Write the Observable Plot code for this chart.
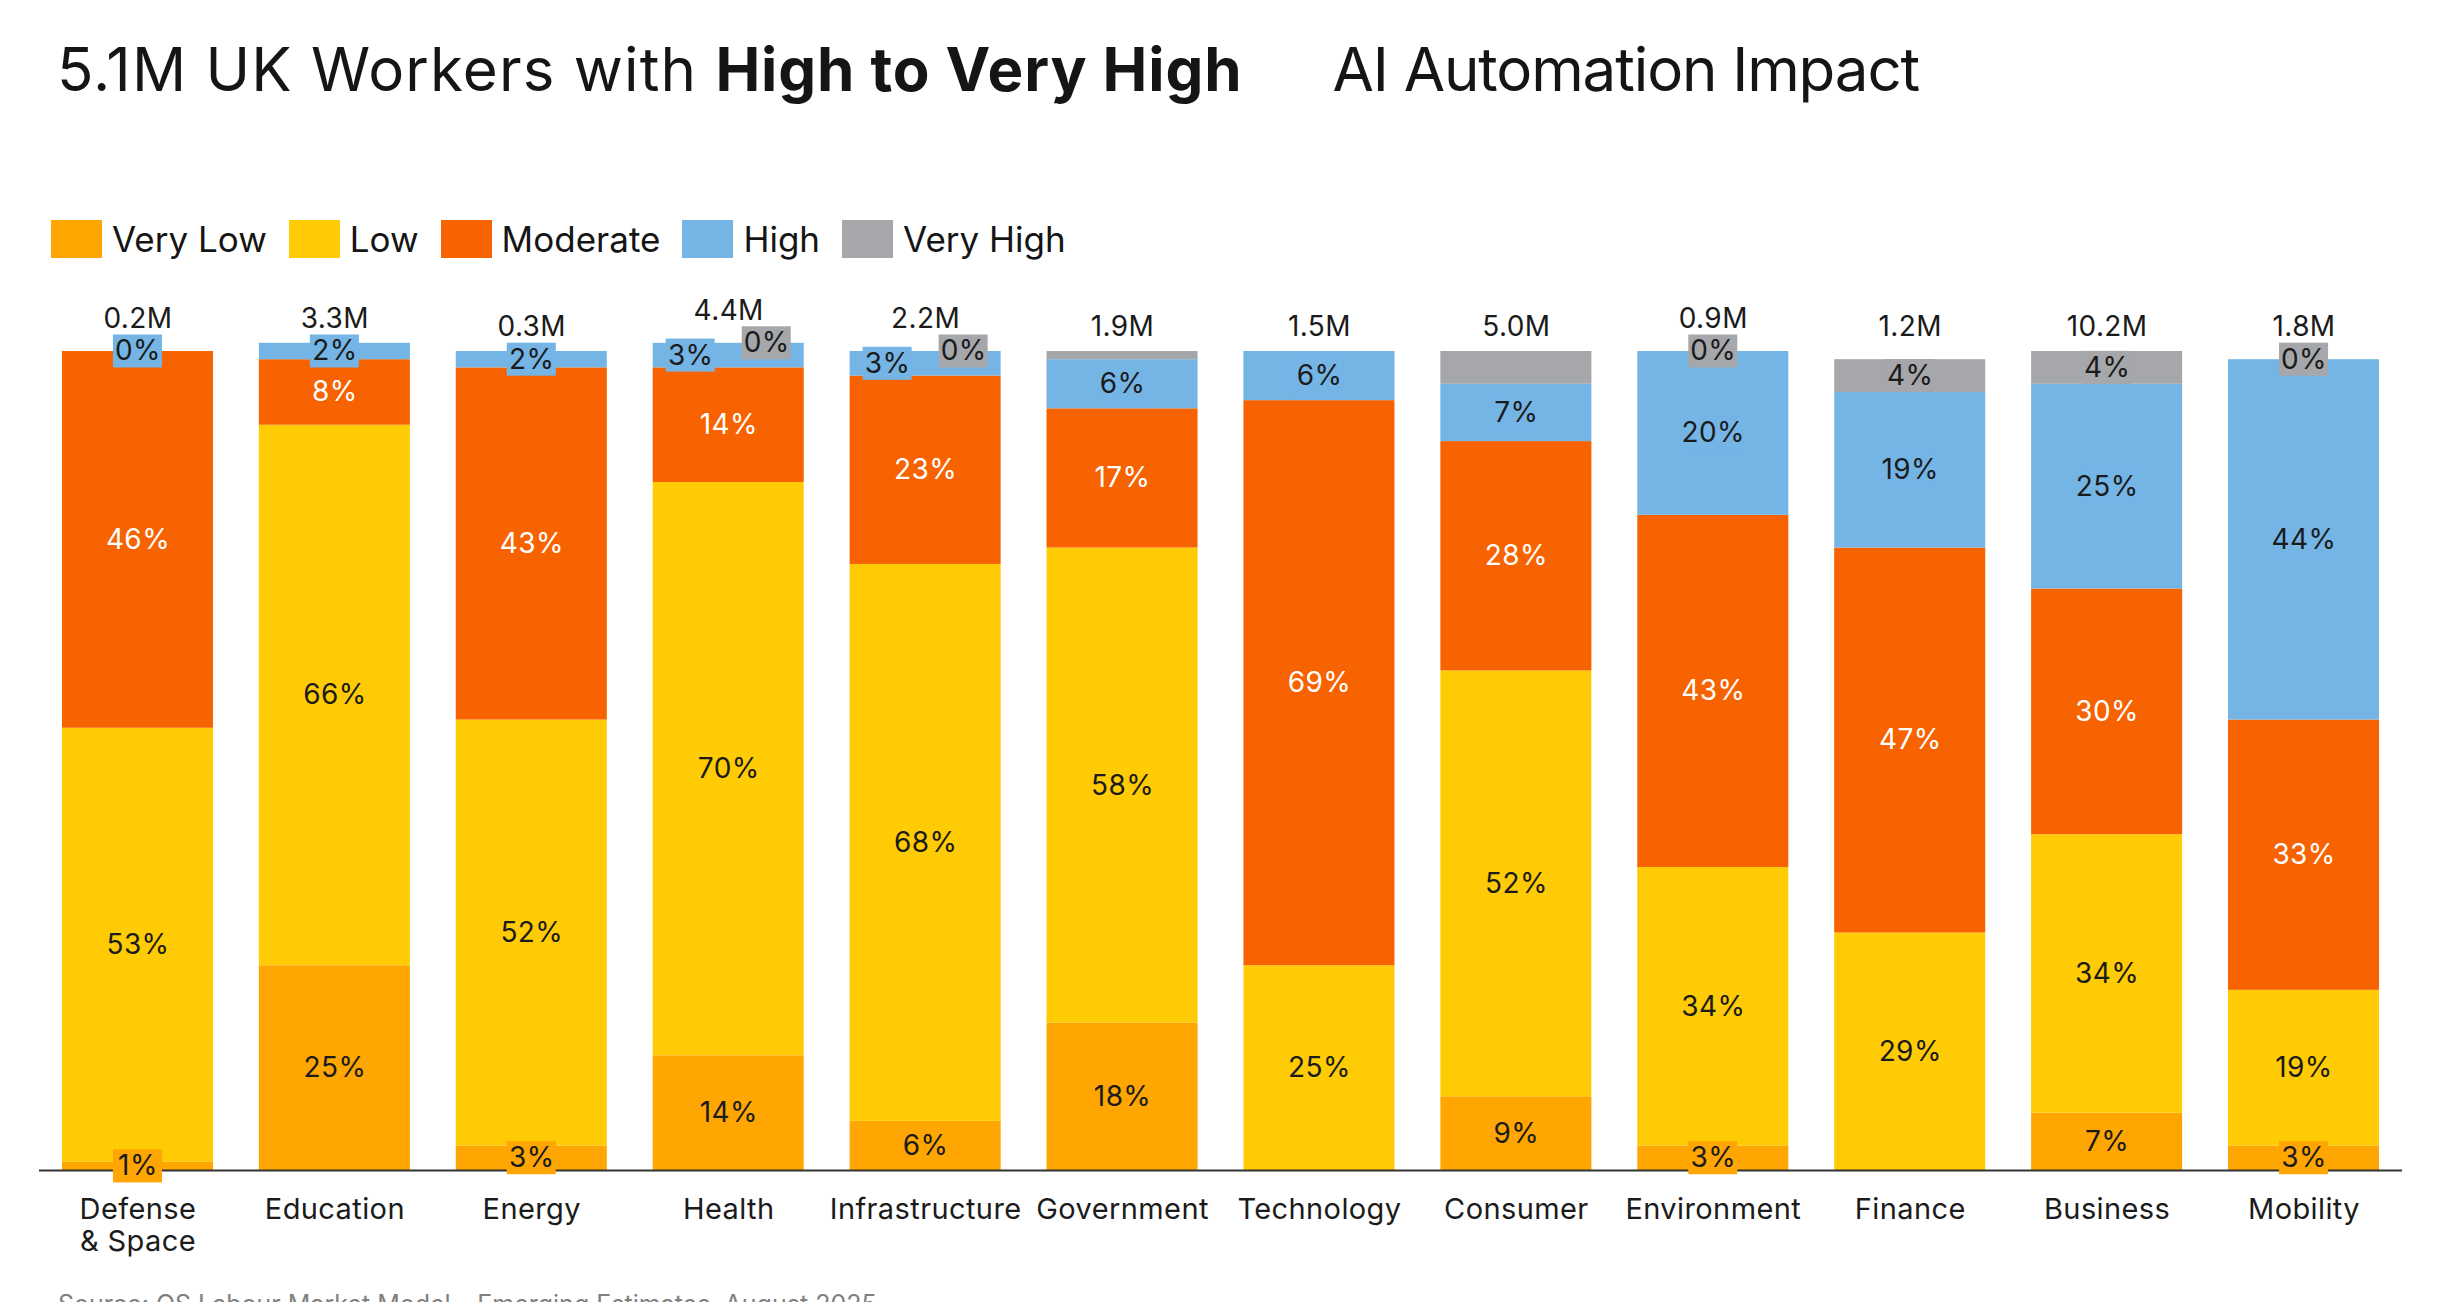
<!DOCTYPE html>
<html>
<head>
<meta charset="utf-8">
<script src="https://cdn.jsdelivr.net/npm/d3@7"></script>
<script src="https://cdn.jsdelivr.net/npm/@observablehq/plot@0.6"></script>
<style>
  html, body { margin: 0; padding: 0; background: #fff; overflow: hidden; }
  body { width: 2440px; height: 1302px; position: relative; font-family: Inter, "Noto Sans", sans-serif; color: #151515; }
  #title { position: absolute; left: 57px; top: 39px; font-size: 60px; line-height: 60px; font-weight: 400; white-space: nowrap; }
  #title .lead { letter-spacing: 1.2px; }
  #title b { font-weight: 700; letter-spacing: 0.9px; }
  #title .tail { letter-spacing: -1.1px; margin-left: 90px; }
  #legend { position: absolute; left: 51px; top: 220px; display: flex; }
  #legend .item { display: flex; align-items: center; margin-right: 22px; font-size: 35px; line-height: 38px; }
  #legend .sw { width: 51px; height: 38px; margin-right: 10px; }
  #chart { position: absolute; left: 0; top: 280px; }
  #source { position: absolute; left: 58px; top: 1289px; font-size: 25px; color: #808080; white-space: nowrap; }
</style>
</head>
<body>
<div id="title"><span class="lead">5.1M UK Workers with </span><b>High to Very High</b><span class="tail">AI Automation Impact</span></div>
<div id="legend"></div>
<div id="chart"></div>
<div id="source">Source: OS Labour Market Model – Emerging Estimates, August 2025</div>
<script>
// Sectors and the share of workers (%) in each AI automation impact level
const sectors = ["Defense & Space", "Education", "Energy", "Health", "Infrastructure", "Government",
                 "Technology", "Consumer", "Environment", "Finance", "Business", "Mobility"];
const veryLow  = [1, 25, 3, 14, 6, 18, null, 9, 3, null, 7, 3];
const low      = [53, 66, 52, 70, 68, 58, 25, 52, 34, 29, 34, 19];
const moderate = [46, 8, 43, 14, 23, 17, 69, 28, 43, 47, 30, 33];
const high     = [0, 2, 2, 3, 3, 6, 6, 7, 20, 19, 25, 44];
const veryHigh = [null, null, null, 0, 0, 1, null, 4, 0, 4, 4, 0];
// Very High shares that are drawn without a value label
const unlabelledVeryHigh = ["Government", "Consumer"];
// Total workers per sector
const totalLabels = ["0.2M", "3.3M", "0.3M", "4.4M", "2.2M", "1.9M", "1.5M", "5.0M", "0.9M", "1.2M", "10.2M", "1.8M"];

const levels = ["Very Low", "Low", "Moderate", "High", "Very High"];
const levelColors = ["#FFA602", "#FFCB05", "#F66300", "#74B5E6", "#A5A7AA"];
const series = [veryLow, low, moderate, high, veryHigh];

// Legend
const legend = document.getElementById("legend");
levels.forEach((lv, k) => {
  const item = document.createElement("div");
  item.className = "item";
  item.innerHTML = `<span class="sw" style="background:${levelColors[k]}"></span><span>${lv}</span>`;
  legend.appendChild(item);
});

// Plot geometry
const width = 2440, height = 1010;
const marginTop = 71, marginBottom = 120, marginLeft = 39, marginRight = 38;
const pxPerPct = (height - marginTop - marginBottom) / 100;
const boxHalf = 16.5 / pxPerPct;   // half height of a label box, in percent units

// Stack the segments of each bar
const rows = [];
sectors.forEach((sector, i) => {
  let base = 0;
  series.forEach((vals, k) => {
    const v = vals[i];
    if (v == null) return;
    rows.push({
      sector, level: levels[k], value: v,
      y1: base, y2: base + v, mid: base + v / 2,
      labelled: !(k === 4 && unlabelledVeryHigh.includes(sector)),
      nudge: 0
    });
    base += v;
  });
});

// Push apart High / Very High labels that would collide at the top of a bar
sectors.forEach(sector => {
  const h = rows.find(r => r.sector === sector && r.level === "High" && r.labelled);
  const vh = rows.find(r => r.sector === sector && r.level === "Very High" && r.labelled);
  if (h && vh && Math.abs(vh.mid - h.mid) < 2 * boxHalf) { h.nudge = -1; vh.nudge = 1; }
});

const labelled = rows.filter(r => r.labelled);

// Totals sit above the bar, lifted clear of any label box poking out of the top
const totals = sectors.map((sector, i) => {
  const tops = labelled.filter(r => r.sector === sector).map(r => r.mid + boxHalf);
  const baseline = Math.max(100 + 16 / pxPerPct, d3.max(tops) + 7 / pxPerPct);
  return {sector, label: totalLabels[i], baseline};
});

const labelMarks = [];
for (const g of [-1, 0, 1]) {
  const grp = labelled.filter(r => r.nudge === g);
  labelMarks.push(
    Plot.barY(grp, {x: "sector", y1: d => d.mid - boxHalf, y2: d => d.mid + boxHalf, fill: "level",
                    insetLeft: 51, insetRight: 51, dx: g * 38}),
    Plot.text(grp.filter(d => d.level !== "Moderate"), {x: "sector", y: "mid", text: d => d.value + "%",
                    fill: "#1b1b1b", fontSize: 28, dx: g * 38}),
    Plot.text(grp.filter(d => d.level === "Moderate"), {x: "sector", y: "mid", text: d => d.value + "%",
                    fill: "#ffffff", fontSize: 28, dx: g * 38})
  );
}

const chart = Plot.plot({
  width, height, marginTop, marginBottom, marginLeft, marginRight,
  style: {fontFamily: "Inter, 'Noto Sans', sans-serif", fontSize: "29px", background: "#fff", letterSpacing: "0.4px"},
  x: {domain: sectors, paddingInner: 0.233, paddingOuter: 0.1165, round: false},
  y: {domain: [0, 100], axis: null},
  color: {domain: levels, range: levelColors},
  marks: [
    Plot.barY(rows, {x: "sector", y1: "y1", y2: "y2", fill: "level"}),
    Plot.ruleY([0], {stroke: "#333", strokeWidth: 2}),
    ...labelMarks,
    Plot.text(totals, {x: "sector", y: "baseline", text: "label", lineAnchor: "bottom", fontSize: 28, fill: "#1b1b1b"}),
    Plot.axisX({tickSize: 0, tickPadding: 25, label: null, lineHeight: 1.12, fill: "#1b1b1b",
                tickFormat: d => d.replace(" & ", "\n& ")})
  ]
});
document.getElementById("chart").appendChild(chart);
</script>
</body>
</html>
